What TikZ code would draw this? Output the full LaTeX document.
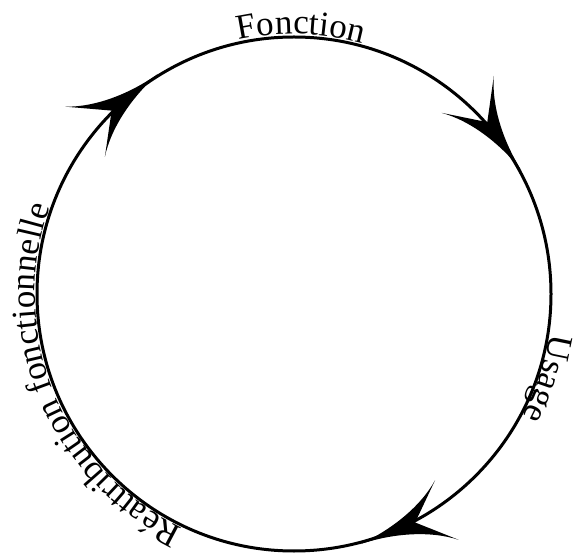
\documentclass[tikz,border=0pt]{standalone}
\usepackage{fontspec}
\setmainfont{Liberation Serif}
\usetikzlibrary{decorations.text}

\newcommand\cyclefont{\fontsize{35}{40}\selectfont}

\tikzset{
  cyclehead/.pic={
    \fill (30,0) .. controls (-5,2) and (-40,13) .. (-63,32)
      -- (-29,0) -- (-63,-32)
      .. controls (-40,-13) and (-5,-2) .. cycle;
  }
}

\begin{document}
\begin{tikzpicture}[x=1pt, y=1pt, line width=3pt]

  \def\R{257}
  \useasboundingbox (0,0) rectangle (576,555);
  \coordinate (c) at (294,261);

  \draw (c) circle[radius=\R];

  % arrowheads, running clockwise
  \foreach \a in {128.4, 35.2, 291.5}
    \path (c) ++(\a:\R) pic[rotate=\a-90] {cyclehead};

  \path[decorate, decoration={text along path, text align=center, raise=3pt,
      text={|\cyclefont|Fonction}}]
    (c) ++(128.5:\R) arc[start angle=128.5, end angle=48.5, radius=\R];
  \path[decorate, decoration={text along path, text align=center, raise=2pt,
      text={|\cyclefont|Usage}}]
    (c) ++(21.5:\R) arc[start angle=21.5, end angle=-58.5, radius=\R];
  \path[decorate, decoration={text along path, text align=center, raise=2pt,
      text={|\cyclefont|Réattribution fonctionnelle}}]
    (c) ++(262.5:\R) arc[start angle=262.5, end angle=142.5, radius=\R];

\end{tikzpicture}
\end{document}
